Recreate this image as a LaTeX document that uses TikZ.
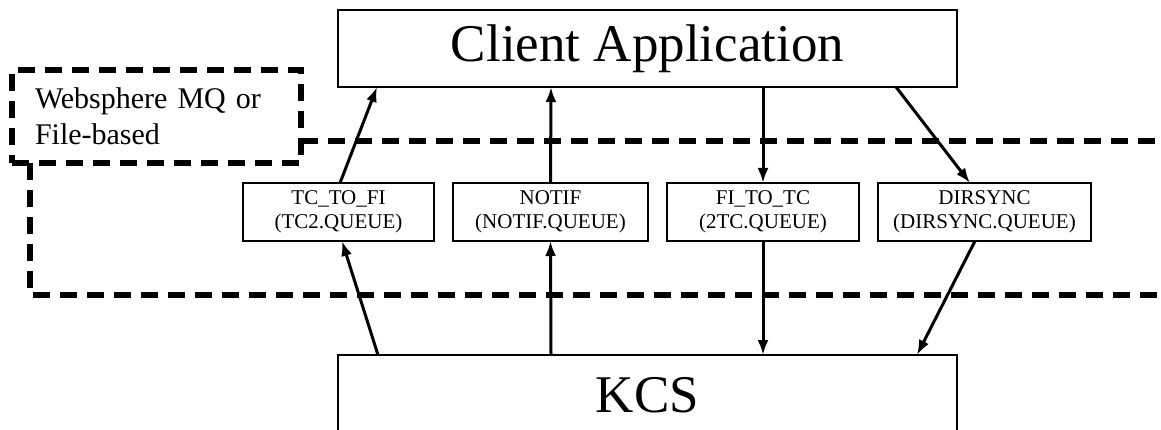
\documentclass[tikz,border=0pt]{standalone}
\usepackage{fontspec}
\setmainfont{Liberation Serif}
\usetikzlibrary{arrows.meta}

\begin{document}
\begin{tikzpicture}[x=1pt,y=-1pt,inner sep=0pt,outer sep=0pt,line width=1.5pt,
mainblock/.style={draw,rectangle,minimum width=619pt,font=\fontsize{53}{58}\selectfont},
queueblock/.style={draw,rectangle,align=center,minimum height=58pt,font=\fontsize{21}{24}\selectfont},
mqline/.style={line width=6pt,dash pattern=on 17pt off 10pt},
flow/.style={line width=3pt,-{Latex[length=15pt,width=11pt]}}]

\useasboundingbox (0,0) rectangle (1161,430);

\draw (647.5,48.5) node[mainblock,minimum height=77pt] (client) {Client Application};
\draw (647.5,395) node[mainblock,minimum height=80pt] (kcs) {KCS};

\draw (338.5,212) node[queueblock,minimum width=191pt] (tcfi) {TC\_TO\_FI\\(TC2.QUEUE)};
\draw (550.5,212) node[queueblock,minimum width=195pt] (notif) {NOTIF\\(NOTIF.QUEUE)};
\draw (763,212) node[queueblock,minimum width=192pt] (fitc) {FI\_TO\_TC\\(2TC.QUEUE)};
\draw (984.5,212) node[queueblock,minimum width=213pt] (dirsync) {DIRSYNC\\(DIRSYNC.QUEUE)};

\draw (156.5,116.5) node[mqline,draw,rectangle,minimum width=289pt,minimum height=93pt,
  text width=243pt,align=left,font=\fontsize{30}{36}\selectfont] (mq) {Websphere MQ or\\File-based};
\draw[mqline] (mq.east |- 0,141) -- (1170,141);
\draw[mqline] (30,163) |- (1170,295);

\draw[flow] ([xshift=-269.5pt]kcs.north) -- ([xshift=3.5pt]tcfi.south);
\draw[flow] ([xshift=1.5pt]tcfi.north) -- ([xshift=-270.5pt]client.south);
\draw[flow] ([xshift=-96.5pt]kcs.north) -- (notif.south);
\draw[flow] (notif.north) -- ([xshift=-96.5pt]client.south);
\draw[flow] ([xshift=115.5pt]client.south) -- (fitc.north);
\draw[flow] (fitc.south) -- ([xshift=115.5pt]kcs.north);
\draw[flow] ([xshift=248.5pt]client.south) -- ([xshift=-14.5pt]dirsync.north);
\draw[flow] ([xshift=-9.5pt]dirsync.south) -- ([xshift=269.5pt]kcs.north);
\end{tikzpicture}
\end{document}
